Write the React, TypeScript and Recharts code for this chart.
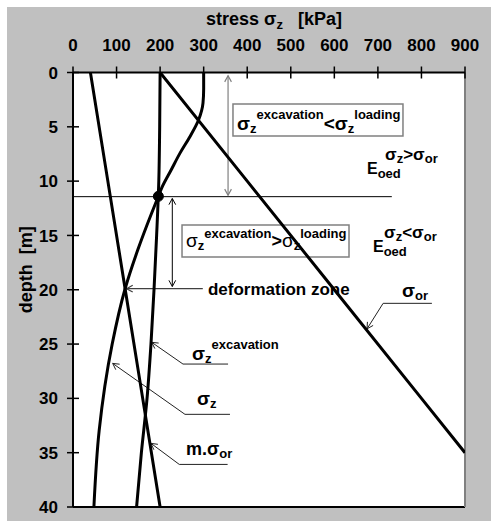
import React from 'react';
import {
  LineChart,
  Line,
  XAxis,
  YAxis,
  CartesianGrid,
  ReferenceLine,
  ReferenceArea,
  ReferenceDot,
} from 'recharts';

const xTicks = [0, 100, 200, 300, 400, 500, 600, 700, 800, 900];
const yTicks = [0, 5, 10, 15, 20, 25, 30, 35, 40];

// sigma_or (straight line)
const sigmaOrDepth = [0, 10, 20, 30, 35];
const sigmaOrValues = [200, 400, 600, 800, 900];

// m . sigma_or
const mSigmaOrDepth = [0, 10, 20, 30, 40];
const mSigmaOrValues = [40, 80, 120, 160, 200];

// sigma_z excavation
const excDepth = [0, 5, 10, 15, 20, 25, 30, 35, 40];
const excValues = [200, 199, 197, 192, 186, 179, 170, 157, 146];

// sigma_z
const szDepth = [0, 1.5, 2.8, 4.4, 6, 7.4, 9, 10.6, 11.4, 13, 16.3, 20, 25, 33, 40];
const szValues = [300, 300, 298.5, 288, 267, 246, 225, 204, 196, 180, 149, 119, 90, 60, 48];

// intersection point
const crossStress = 196;
const crossDepth = 11.4;

const toRows = (d: number[], v: number[]) => d.map((depth, i) => ({ depth, value: v[i] }));

const FONT = '"Liberation Sans", Arial, Helvetica, sans-serif';
const TICK = 6;
const XMARGIN = 16;
const YMARGIN = 9;

// o = baseline offset, ax = absolute x offset from text start
type Part = { t: string; f: number; o?: number; light?: boolean; ax?: number };

function Rich({ x, y, parts, anchor = 'start', rotate }: any) {
  let cur = 0;
  return (
    <text
      x={x}
      y={y}
      textAnchor={anchor}
      fontFamily={FONT}
      fill="#000"
      style={{ whiteSpace: 'pre' }}
      transform={rotate ? `rotate(${rotate} ${x} ${y})` : undefined}
    >
      {parts.map((p: Part, i: number) => {
        const off = p.o ?? 0;
        const dy = off - cur;
        cur = off;
        return (
          <tspan
            key={i}
            x={p.ax !== undefined ? x + p.ax : undefined}
            dy={dy}
            fontSize={p.f}
            fontWeight={p.light ? 400 : 700}
          >
            {p.t}
          </tspan>
        );
      })}
    </text>
  );
}

const XTick = (props: any) => {
  const { x, y, payload } = props;
  const ay = y + TICK + XMARGIN;
  return (
    <g>
      <line x1={x} x2={x} y1={ay - TICK} y2={ay + TICK} stroke="#000" strokeWidth={1.5} />
      <text x={x} y={y} textAnchor="middle" fontFamily={FONT} fontWeight={700} fontSize={17} fill="#000">
        {payload.value}
      </text>
    </g>
  );
};

const YTick = (props: any) => {
  const { x, y, payload } = props;
  const ax = x + TICK + YMARGIN;
  return (
    <g>
      <line x1={ax - TICK} x2={ax + TICK} y1={y} y2={y} stroke="#000" strokeWidth={1.5} />
      <text x={x} y={y} dy="0.36em" textAnchor="end" fontFamily={FONT} fontWeight={700} fontSize={17} fill="#000">
        {payload.value}
      </text>
    </g>
  );
};

const arrow = (heads: 'none' | 'end' | 'both', color: string, width = 1) => (p: any) => {
  const { x1, y1, x2, y2 } = p;
  const head = (tx: number, ty: number, fx: number, fy: number) => {
    const a = Math.atan2(ty - fy, tx - fx);
    const L = 7;
    const w = 0.5;
    return (
      <polyline
        points={`${tx - L * Math.cos(a - w)},${ty - L * Math.sin(a - w)} ${tx},${ty} ${tx - L * Math.cos(a + w)},${ty - L * Math.sin(a + w)}`}
        fill="none"
        stroke={color}
        strokeWidth={width}
      />
    );
  };
  return (
    <g>
      <line x1={x1} y1={y1} x2={x2} y2={y2} stroke={color} strokeWidth={width} />
      {heads !== 'none' && head(x2, y2, x1, y1)}
      {heads === 'both' && head(x1, y1, x2, y2)}
    </g>
  );
};

const textAt = (parts: Part[]) => (p: any) => <Rich x={p.cx} y={p.cy} parts={parts} />;

const sig = (o = 0): Part => ({ t: 'σ', f: 19, o });

export default function App() {
  return (
    <div style={{ position: 'absolute', left: 0, top: 0, width: 491, height: 521, background: '#fff' }}>
      <div style={{ position: 'absolute', left: 7, top: 7, right: 0, bottom: 0, background: '#c0c0c0' }} />
      <div style={{ position: 'absolute', left: 0, top: 0 }}>
        <LineChart layout="vertical" width={491} height={521} margin={{ top: 7.5, right: 26, bottom: 14, left: 13 }}>
          <CartesianGrid horizontal={false} vertical={false} fill="#fff" />
          <XAxis
            type="number"
            orientation="top"
            domain={[0, 900]}
            ticks={xTicks}
            allowDataOverflow
            height={65}
            tickSize={TICK}
            tickMargin={XMARGIN}
            tickLine={false}
            tick={<XTick />}
            axisLine={{ stroke: '#000', strokeWidth: 2 }}
            label={{
              content: (p: any) => (
                <Rich
                  x={p.viewBox.x + p.viewBox.width / 2 + 5}
                  y={p.viewBox.y + 17.5}
                  anchor="middle"
                  parts={[
                    { t: 'stress σ', f: 18 },
                    { t: 'z', f: 13, o: 4 },
                    { t: '   [kPa]', f: 18 },
                  ]}
                />
              ),
            }}
          />
          <YAxis
            type="number"
            dataKey="depth"
            domain={[0, 40]}
            ticks={yTicks}
            allowDataOverflow
            width={60}
            tickSize={TICK}
            tickMargin={YMARGIN}
            tickLine={false}
            tick={<YTick />}
            axisLine={{ stroke: '#000', strokeWidth: 2 }}
            label={{
              content: (p: any) => (
                <Rich
                  x={p.viewBox.x + 19}
                  y={p.viewBox.y + p.viewBox.height / 2 - 20}
                  anchor="middle"
                  rotate={-90}
                  parts={[{ t: 'depth  [m]', f: 18 }]}
                />
              ),
            }}
          />

          <ReferenceLine y={40} stroke="#000" strokeWidth={2} />
          <ReferenceLine x={900} stroke="#808080" strokeWidth={2} />

          <ReferenceArea x1={367.3} x2={757.6} y1={2.9} y2={5.85} fill="none" stroke="#808080" strokeWidth={1.5} ifOverflow="visible" />
          <ReferenceArea x1={250.3} x2={633.7} y1={14.04} y2={16.99} fill="none" stroke="#808080" strokeWidth={1.5} ifOverflow="visible" />

          <ReferenceLine segment={[{ x: 0, y: 11.43 }, { x: 732, y: 11.43 }]} stroke="#000" strokeWidth={1} />
          <ReferenceLine segment={[{ x: 356, y: 0.3 }, { x: 356, y: 11.3 }]} shape={arrow('both', '#808080', 1.2)} />
          <ReferenceLine segment={[{ x: 228, y: 11.6 }, { x: 228, y: 19.7 }]} shape={arrow('both', '#000', 1)} />
          <ReferenceLine segment={[{ x: 298, y: 19.9 }, { x: 123, y: 19.9 }]} shape={arrow('end', '#404040', 1.2)} />

          <ReferenceLine segment={[{ x: 824, y: 21.25 }, { x: 712, y: 21.25 }]} shape={arrow('none', '#222', 1)} />
          <ReferenceLine segment={[{ x: 712, y: 21.25 }, { x: 675, y: 23.6 }]} shape={arrow('end', '#222', 1)} />
          <ReferenceLine segment={[{ x: 356, y: 26.84 }, { x: 252.5, y: 26.84 }]} shape={arrow('none', '#222', 1)} />
          <ReferenceLine segment={[{ x: 252.5, y: 26.84 }, { x: 180.7, y: 24.84 }]} shape={arrow('end', '#222', 1)} />
          <ReferenceLine segment={[{ x: 360.4, y: 31.47 }, { x: 257.1, y: 31.47 }]} shape={arrow('none', '#222', 1)} />
          <ReferenceLine segment={[{ x: 257.1, y: 31.47 }, { x: 91.1, y: 26.78 }]} shape={arrow('end', '#222', 1)} />
          <ReferenceLine segment={[{ x: 355, y: 36.08 }, { x: 244, y: 36.08 }]} shape={arrow('none', '#222', 1)} />
          <ReferenceLine segment={[{ x: 244, y: 36.08 }, { x: 179, y: 34.14 }]} shape={arrow('end', '#222', 1)} />

          <Line data={toRows(sigmaOrDepth, sigmaOrValues)} dataKey="value" type="linear" stroke="#000" strokeWidth={3} dot={false} isAnimationActive={false} />
          <Line data={toRows(mSigmaOrDepth, mSigmaOrValues)} dataKey="value" type="linear" stroke="#000" strokeWidth={3} dot={false} isAnimationActive={false} />
          <Line data={toRows(excDepth, excValues)} dataKey="value" type="monotone" stroke="#000" strokeWidth={3} dot={false} isAnimationActive={false} />
          <Line data={toRows(szDepth, szValues)} dataKey="value" type="monotone" stroke="#000" strokeWidth={3} dot={false} isAnimationActive={false} />

          <ReferenceDot x={crossStress} y={crossDepth} r={5} fill="#000" stroke="#000" />

          <ReferenceDot x={376.5} y={5.29} r={0} ifOverflow="visible" shape={textAt([
            sig(), { t: 'z', f: 13, o: 3 }, { t: 'excavation', f: 13, o: -11 },
            { t: '<σ', f: 19 }, { t: 'z', f: 13, o: 3 }, { t: 'loading', f: 13, o: -11 },
          ])} />
          <ReferenceDot x={259.4} y={16.11} r={0} ifOverflow="visible" shape={textAt([
            { t: 'σ', f: 19, light: true }, { t: 'z', f: 13, o: 3 }, { t: 'excavation', f: 13, o: -9 },
            { t: '>', f: 18 }, { t: 'σ', f: 19, light: true }, { t: 'z', f: 13, o: 3 }, { t: 'loading', f: 13, o: -9 },
          ])} />

          <ReferenceDot x={675} y={9.34} r={0} ifOverflow="visible" shape={textAt([
            { t: 'E', f: 16 }, { t: 'oed', f: 13, o: 4 },
            { t: 'σ', f: 17, o: -14, ax: 18 }, { t: 'z', f: 13, o: -11 }, { t: '>σ', f: 17, o: -14 }, { t: 'or', f: 13, o: -11 },
          ])} />
          <ReferenceDot x={688.8} y={16.52} r={0} ifOverflow="visible" shape={textAt([
            { t: 'E', f: 16 }, { t: 'oed', f: 13, o: 4 },
            { t: 'σ', f: 17, o: -14, ax: 11 }, { t: 'z', f: 13, o: -11 }, { t: '<σ', f: 17, o: -14 }, { t: 'or', f: 13, o: -11 },
          ])} />

          <ReferenceDot x={309.9} y={20.48} r={0} ifOverflow="visible" shape={textAt([{ t: 'deformation zone', f: 17 }])} />
          <ReferenceDot x={755.3} y={20.67} r={0} ifOverflow="visible" shape={textAt([sig(), { t: 'or', f: 13, o: 3 }])} />
          <ReferenceDot x={273.2} y={26.47} r={0} ifOverflow="visible" shape={textAt([
            sig(), { t: 'z', f: 13, o: 3 }, { t: 'excavation', f: 13, o: -11 },
          ])} />
          <ReferenceDot x={284.7} y={30.61} r={0} ifOverflow="visible" shape={textAt([sig(), { t: 'z', f: 13, o: 3 }])} />
          <ReferenceDot x={259.4} y={35.21} r={0} ifOverflow="visible" shape={textAt([
            { t: 'm.σ', f: 18 }, { t: 'or', f: 13, o: 3 },
          ])} />
        </LineChart>
      </div>
    </div>
  );
}
